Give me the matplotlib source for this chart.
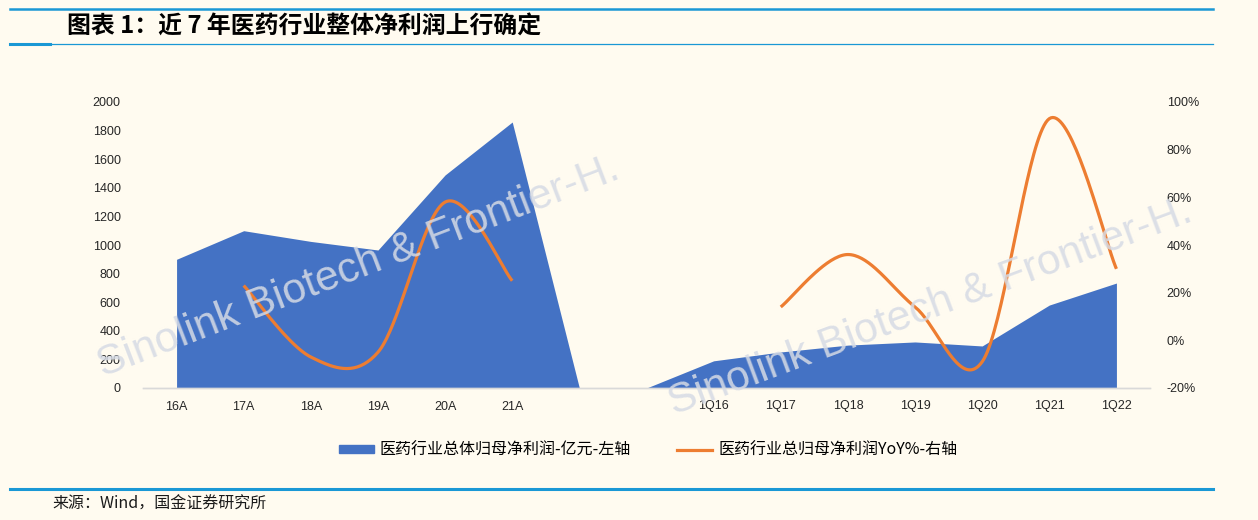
import numpy as np
import matplotlib
matplotlib.use('Agg')
import matplotlib.pyplot as plt
from matplotlib.lines import Line2D
from matplotlib.patches import Patch

plt.rcParams['font.family'] = ['Liberation Sans', 'Noto Sans CJK SC', 'DejaVu Sans']

# data
categories = ['16A', '17A', '18A', '19A', '20A', '21A', '', '',
              '1Q16', '1Q17', '1Q18', '1Q19', '1Q20', '1Q21', '1Q22']
profit = [900, 1100, 1025, 965, 1490, 1860, 0, 0,
          190, 252, 300, 322, 294, 580, 734]
yoy = [np.nan, 23, -7, -5, 58, 25, np.nan, np.nan,
       np.nan, 14, 36, 14, -9, 93, 30]

profit_label = '医药行业总体归母净利润-亿元-左轴'
yoy_label = '医药行业总归母净利润YoY%-右轴'
title = '图表 1：近 7 年医药行业整体净利润上行确定'
source = '来源：Wind，国金证券研究所'
watermark = 'Sinolink Biotech & Frontier-H.'

BG = '#fffbf0'
BLUE = '#4472c4'
ORANGE = '#ed7d31'
RULE = '#1a98d5'


def smooth(xs, ys, n=40):
    # catmull-rom, like excel's smoothed line
    xs = np.asarray(xs, float)
    ys = np.asarray(ys, float)
    px = np.concatenate([[xs[0]], xs, [xs[-1]]])
    py = np.concatenate([[ys[0]], ys, [ys[-1]]])
    outx, outy = [], []
    for i in range(1, len(px) - 2):
        t = np.linspace(0, 1, n)
        h00 = 2 * t**3 - 3 * t**2 + 1
        h10 = t**3 - 2 * t**2 + t
        h01 = -2 * t**3 + 3 * t**2
        h11 = t**3 - t**2
        mx0 = (px[i + 1] - px[i - 1]) / 2
        mx1 = (px[i + 2] - px[i]) / 2
        my0 = (py[i + 1] - py[i - 1]) / 2
        my1 = (py[i + 2] - py[i]) / 2
        outx.append(h00 * px[i] + h10 * mx0 + h01 * px[i + 1] + h11 * mx1)
        outy.append(h00 * py[i] + h10 * my0 + h01 * py[i + 1] + h11 * my1)
    return np.concatenate(outx), np.concatenate(outy)


fig = plt.figure(figsize=(12.58, 5.2), dpi=100, facecolor=BG)
ax = fig.add_axes([143 / 1258, 1 - 388 / 520, 1007 / 1258, 286 / 520])
ax.set_facecolor(BG)
x = np.arange(len(categories))

ax.fill_between(x, 0, profit, color=BLUE, linewidth=0, zorder=2)
ax.set_xlim(-0.5, len(categories) - 0.5)
ax.set_ylim(0, 2000)
ax.set_yticks(np.arange(0, 2001, 200))
ax.set_xticks(x)
ax.set_xticklabels(categories)

ax2 = ax.twinx()
yv = np.array(yoy, float)
ok = ~np.isnan(yv)
# split into continuous runs
runs = []
cur = []
for i in range(len(yv)):
    if ok[i]:
        cur.append(i)
    elif cur:
        runs.append(cur)
        cur = []
if cur:
    runs.append(cur)
for r in runs:
    sx, sy = smooth(x[r], yv[r])
    ax2.plot(sx, sy, color=ORANGE, lw=2.3, solid_capstyle='butt', zorder=3)
ax2.set_ylim(-20, 100)
ax2.set_yticks(np.arange(-20, 101, 20))
ax2.set_yticklabels(['%d%%' % v for v in range(-20, 101, 20)])

for a in (ax, ax2):
    for s in ('top', 'left', 'right'):
        a.spines[s].set_visible(False)
    a.spines['bottom'].set_color('#d9d9d9')
    a.spines['bottom'].set_linewidth(1)
    a.tick_params(length=0, labelsize=9, colors='#262626')
ax.tick_params(axis='y', pad=16)
ax2.tick_params(axis='y', pad=12)
ax.tick_params(axis='x', pad=9)

# watermark
fig.text(358 / 1258, 1 - 267 / 520, watermark, rotation=21, fontsize=30.5,
         color='#d6dbe5', alpha=0.85, ha='center', va='center', zorder=10)
fig.text(930 / 1258, 1 - 307 / 520, watermark, rotation=20.5, fontsize=30.5,
         color='#d6dbe5', alpha=0.85, ha='center', va='center', zorder=10)

handles = [Patch(color=BLUE, label=profit_label),
           Line2D([], [], color=ORANGE, lw=2.3, label=yoy_label)]
fig.legend(handles=handles, loc='center', bbox_to_anchor=(648 / 1258, 1 - 450 / 520),
           ncol=2, frameon=False, handlelength=2.2, handleheight=0.45,
           columnspacing=2.9, handletextpad=0.37,
           prop={'family': ['Noto Sans CJK SC'], 'size': 11.5})

# header / footer rules and text
fig.add_artist(Line2D([10 / 1258, 1213 / 1258], [1 - 9 / 520] * 2, color=RULE, lw=1.8))
fig.add_artist(Line2D([10 / 1258, 1213 / 1258], [1 - 44 / 520] * 2, color=RULE, lw=0.9))
fig.add_artist(Line2D([10 / 1258, 50 / 1258], [1 - 44 / 520] * 2, color=RULE, lw=2.2))
fig.add_artist(Line2D([10 / 1258, 1213 / 1258], [1 - 489 / 520] * 2, color=RULE, lw=2.2))
fig.text(67 / 1258, 1 - 26 / 520, title, fontsize=17.2, fontweight='bold',
         ha='left', va='center', color='black',
         family=['Noto Sans CJK SC', 'DejaVu Sans'])
fig.text(52 / 1258, 1 - 504 / 520, source, fontsize=11.5, ha='left', va='center',
         color='#1a1a1a', family=['Noto Sans CJK SC', 'DejaVu Sans'])

fig.savefig('out.png', dpi=100, facecolor=BG)
